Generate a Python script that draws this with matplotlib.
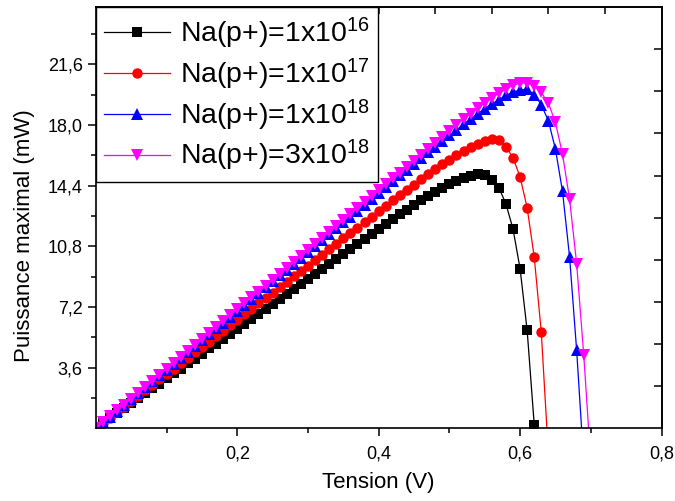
import numpy as np
import matplotlib.pyplot as plt
from matplotlib.ticker import FixedLocator, FuncFormatter

plt.rcParams['font.family'] = ['Liberation Sans', 'DejaVu Sans']
plt.rcParams['mathtext.default'] = 'regular'

# --- Tension grid (V), step 0.01 ---
v = [0.00, 0.01, 0.02, 0.03, 0.04, 0.05, 0.06, 0.07, 0.08, 0.09,
     0.10, 0.11, 0.12, 0.13, 0.14, 0.15, 0.16, 0.17, 0.18, 0.19,
     0.20, 0.21, 0.22, 0.23, 0.24, 0.25, 0.26, 0.27, 0.28, 0.29,
     0.30, 0.31, 0.32, 0.33, 0.34, 0.35, 0.36, 0.37, 0.38, 0.39,
     0.40, 0.41, 0.42, 0.43, 0.44, 0.45, 0.46, 0.47, 0.48, 0.49,
     0.50, 0.51, 0.52, 0.53, 0.54, 0.55, 0.56, 0.57, 0.58, 0.59,
     0.60, 0.61, 0.62, 0.63, 0.64, 0.65, 0.66, 0.67, 0.68, 0.69,
     0.70]

# --- Puissance maximale (mW) per doping level ---
p_1e16 = [0.00, 0.30, 0.59, 0.89, 1.18, 1.48, 1.78, 2.07, 2.37, 2.66,
          2.96, 3.26, 3.55, 3.85, 4.14, 4.44, 4.74, 5.03, 5.33, 5.62,
          5.92, 6.22, 6.51, 6.81, 7.10, 7.40, 7.70, 7.99, 8.29, 8.58,
          8.88, 9.18, 9.47, 9.77, 10.06, 10.36, 10.65, 10.95, 11.24, 11.54,
          11.83, 12.12, 12.41, 12.70, 12.98, 13.26, 13.53, 13.79, 14.04, 14.27,
          14.49, 14.69, 14.86, 15.00, 15.08, 15.02, 14.75, 14.28, 13.32, 11.83,
          9.47, 5.81, 0.22]

p_1e17 = [0.00, 0.32, 0.64, 0.97, 1.29, 1.61, 1.93, 2.25, 2.58, 2.90,
          3.22, 3.54, 3.86, 4.19, 4.51, 4.83, 5.15, 5.47, 5.80, 6.12,
          6.44, 6.76, 7.08, 7.41, 7.73, 8.05, 8.37, 8.69, 9.02, 9.34,
          9.66, 9.98, 10.30, 10.63, 10.95, 11.27, 11.59, 11.91, 12.24, 12.56,
          12.88, 13.20, 13.52, 13.84, 14.15, 14.46, 14.77, 15.07, 15.37, 15.66,
          15.94, 16.21, 16.46, 16.69, 16.90, 17.07, 17.18, 17.08, 16.72, 16.05,
          14.92, 13.08, 10.17, 5.69, -1.5]

p_1e18 = [0.00, 0.35, 0.70, 1.05, 1.40, 1.75, 2.09, 2.44, 2.79, 3.14,
          3.49, 3.84, 4.19, 4.54, 4.89, 5.24, 5.58, 5.93, 6.28, 6.63,
          6.98, 7.33, 7.68, 8.03, 8.38, 8.73, 9.07, 9.42, 9.77, 10.12,
          10.47, 10.82, 11.17, 11.52, 11.87, 12.22, 12.56, 12.91, 13.26, 13.61,
          13.96, 14.31, 14.66, 15.01, 15.35, 15.70, 16.04, 16.38, 16.72, 17.05,
          17.38, 17.71, 18.04, 18.36, 18.67, 18.97, 19.25, 19.51, 19.75, 19.95,
          20.08, 20.12, 19.80, 19.20, 18.25, 16.57, 14.06, 10.17, 4.63, -2.0]

p_3e18 = [0.00, 0.35, 0.71, 1.06, 1.41, 1.77, 2.12, 2.47, 2.82, 3.18,
          3.53, 3.88, 4.24, 4.59, 4.94, 5.30, 5.65, 6.00, 6.35, 6.71,
          7.06, 7.41, 7.77, 8.12, 8.47, 8.83, 9.18, 9.53, 9.88, 10.24,
          10.59, 10.94, 11.30, 11.65, 12.00, 12.36, 12.71, 13.06, 13.41, 13.77,
          14.12, 14.47, 14.83, 15.18, 15.53, 15.88, 16.22, 16.57, 16.96, 17.31,
          17.66, 18.00, 18.34, 18.67, 18.99, 19.30, 19.60, 19.88, 20.12, 20.36,
          20.48, 20.50, 20.32, 19.93, 19.30, 18.15, 16.27, 13.60, 9.77, 4.37,
          -2.0]

series = [
    (p_1e16, r"Na(p+)=1x10$^{16}$", "black", "s", 7.2),
    (p_1e17, r"Na(p+)=1x10$^{17}$", "red", "o", 7.5),
    (p_1e18, r"Na(p+)=1x10$^{18}$", "blue", "^", 8.0),
    (p_3e18, r"Na(p+)=3x10$^{18}$", "magenta", "v", 8.0),
]

fig = plt.figure(figsize=(6.75, 5.01), dpi=100)
ax = fig.add_axes([0.142, 0.145, 0.838, 0.841])

for p, lab, col, mk, ms in series:
    ax.plot(v[:len(p)], p, marker=mk, color=col, lw=0.9, ms=ms,
            markeredgewidth=0, label=lab)

ax.set_xlim(0, 0.8)
ax.set_ylim(0, 25)

comma = FuncFormatter(lambda x, pos: f"{x:.1f}".replace('.', ','))
ax.xaxis.set_major_locator(FixedLocator([0.2, 0.4, 0.6, 0.8]))
ax.xaxis.set_minor_locator(FixedLocator([0.1, 0.3, 0.5, 0.7]))
ax.yaxis.set_major_locator(FixedLocator([3.6, 7.2, 10.8, 14.4, 18.0, 21.6]))
ax.yaxis.set_minor_locator(FixedLocator([1.8, 5.4, 9.0, 12.6, 16.2, 19.8, 23.4]))
ax.xaxis.set_major_formatter(comma)
ax.yaxis.set_major_formatter(comma)

ax.tick_params(which='both', direction='out', top=False, right=False,
               labelsize=13, width=1.1)
ax.tick_params(which='major', length=6)
ax.tick_params(which='minor', length=3.5)
ax.tick_params(axis='x', which='major', pad=6)

# top and right axes carry their own tick spacing
top = ax.secondary_xaxis('top')
top.set_xticks([0.08 * i for i in range(1, 10)])
top.tick_params(direction='in', length=5, width=1.1, labeltop=False)
right = ax.secondary_yaxis('right')
right.set_yticks([2.5 * i for i in range(1, 10)])
right.tick_params(direction='in', length=5.5, width=1.1, labelright=False)

for s in list(ax.spines.values()) + [top.spines['top'], right.spines['right']]:
    s.set_linewidth(1.2)

ax.set_xlabel("Tension (V)", fontsize=16)
ax.set_ylabel("Puissance maximal (mW)", fontsize=16)
ax.xaxis.set_label_coords(0.5, -0.103)
ax.yaxis.set_label_coords(-0.108, 0.457)

leg = ax.legend(loc='upper left', borderaxespad=0, fontsize=20.5, frameon=True,
                fancybox=False, edgecolor='black', framealpha=1,
                handlelength=2.3, handletextpad=0.35, borderpad=0.3,
                labelspacing=0.2)
leg.get_frame().set_linewidth(1.0)

fig.savefig("out.png", dpi=100)
